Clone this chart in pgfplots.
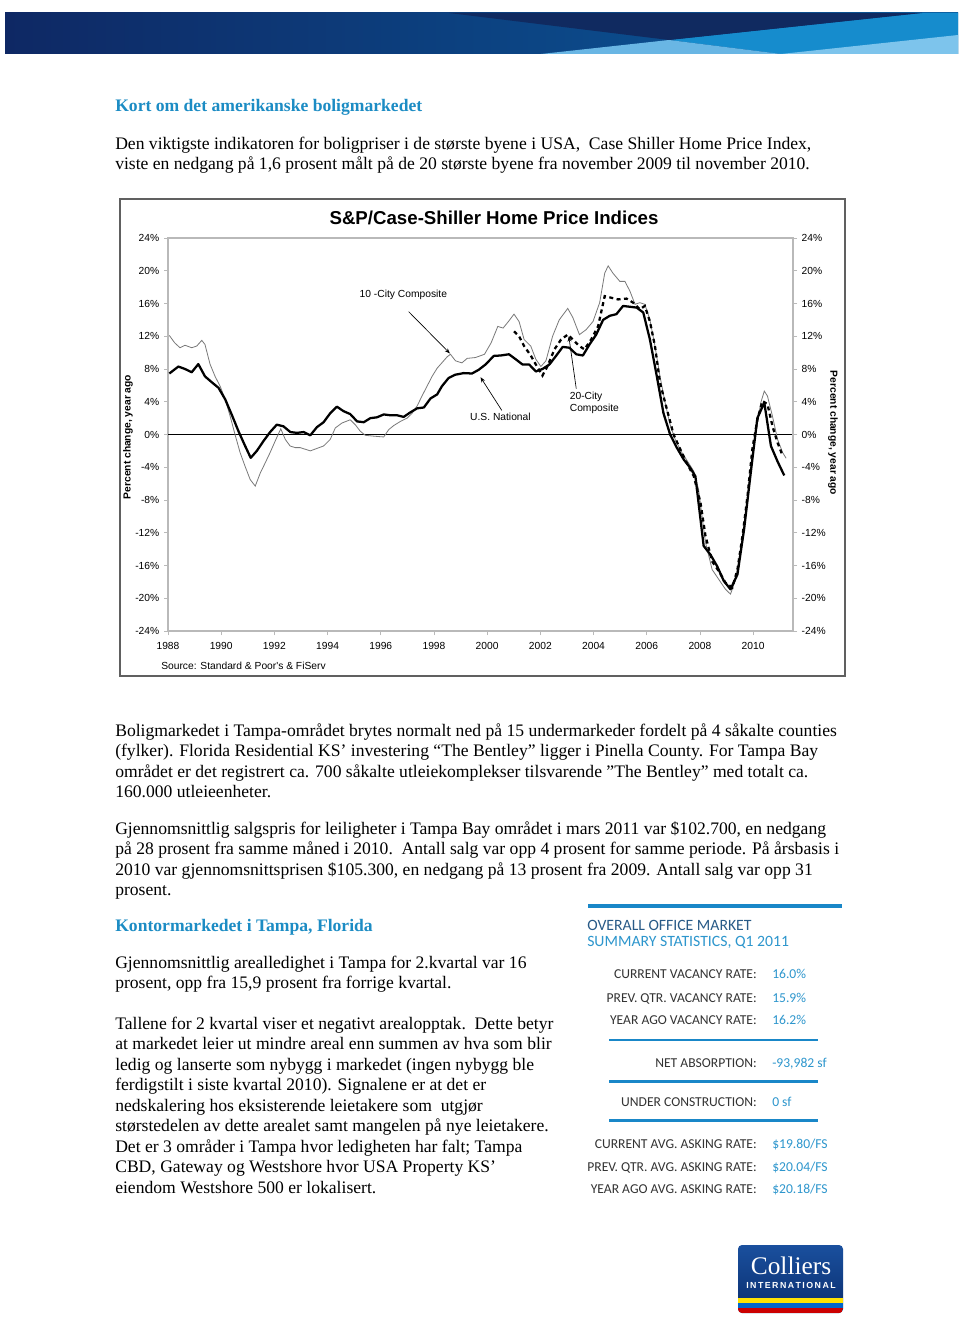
\documentclass[border=0pt]{standalone}
\usepackage{pgfplots}
\pgfplotsset{compat=1.18}
\usepackage{fontspec}
\setmainfont{Liberation Serif}
\newfontfamily\arial{Liberation Sans}
\newfontfamily\carlito{Carlito}
\usetikzlibrary{arrows.meta}
\definecolor{headblue}{RGB}{28,140,196}
\definecolor{statblue}{RGB}{45,150,205}
\definecolor{statdark}{RGB}{40,90,135}
\definecolor{barblue}{RGB}{25,135,200}
\definecolor{navyA}{RGB}{14,40,100}
\definecolor{navyB}{RGB}{10,92,158}
\definecolor{navyTop}{RGB}{16,42,96}
\definecolor{brightB}{RGB}{22,140,205}
\definecolor{lightB}{RGB}{105,182,228}
\definecolor{lightC}{RGB}{125,196,236}
\definecolor{logoTop}{RGB}{26,80,158}
\definecolor{logoBot}{RGB}{10,45,110}

\pgfplotstableread{
x y
1988.05 12.1
1988.25 11.2
1988.45 10.6
1988.64 10.9
1988.89 10.6
1989.08 10.8
1989.27 11.5
1989.39 11.0
1989.58 8.6
1989.77 7.1
1989.96 5.9
1990.15 4.3
1990.34 2.2
1990.52 0.0
1990.71 -2.2
1990.90 -3.9
1991.09 -5.5
1991.28 -6.3
1991.47 -4.7
1991.65 -3.5
1991.84 -2.2
1992.03 -0.8
1992.24 0.7
1992.41 -0.6
1992.59 -1.4
1992.78 -1.6
1992.97 -1.6
1993.16 -1.8
1993.35 -2.0
1993.60 -1.7
1993.85 -1.4
1994.10 -0.6
1994.29 0.8
1994.54 1.4
1994.85 1.8
1995.04 1.2
1995.23 0.4
1995.42 -0.1
1995.73 -0.2
1996.11 -0.3
1996.30 0.6
1996.49 1.1
1996.74 1.6
1996.99 2.0
1997.18 2.6
1997.37 3.5
1997.55 4.7
1997.74 5.9
1997.93 7.1
1998.12 8.1
1998.31 8.8
1998.50 9.5
1998.62 9.8
1998.81 9.0
1999.05 8.75
1999.25 9.3
1999.56 9.4
1999.90 9.8
2000.15 11.2
2000.40 13.2
2000.60 13.0
2000.80 13.8
2001.01 14.7
2001.20 13.8
2001.39 11.6
2001.64 10.8
2001.83 9.2
2002.02 8.3
2002.21 9.0
2002.46 12.0
2002.71 14.0
2003.03 15.4
2003.22 14.3
2003.47 12.2
2003.72 12.8
2003.98 13.8
2004.23 16.1
2004.42 19.7
2004.55 20.6
2004.73 19.7
2004.99 18.7
2005.18 18.7
2005.37 17.5
2005.56 15.9
2005.74 16.1
2005.93 15.9
2006.12 14.0
2006.31 10.8
2006.50 7.1
2006.69 3.9
2006.88 1.2
2007.07 -0.6
2007.32 -2.2
2007.58 -3.5
2007.77 -4.5
2007.95 -6.7
2008.08 -10.0
2008.21 -13.2
2008.46 -16.5
2008.71 -17.7
2008.96 -18.9
2009.15 -19.5
2009.34 -17.7
2009.53 -14.0
2009.72 -9.6
2009.91 -3.9
2010.10 0.2
2010.29 3.9
2010.42 5.3
2010.54 4.7
2010.73 2.2
2010.92 -0.6
2011.11 -2.2
2011.24 -2.9
}\tencity

\pgfplotstableread{
x y
1988.05 7.45
1988.39 8.3
1988.64 8.0
1988.89 7.6
1989.14 8.6
1989.39 7.1
1989.64 6.4
1989.90 5.7
1990.15 4.3
1990.40 2.4
1990.65 0.4
1990.90 -1.4
1991.11 -2.85
1991.34 -2.0
1991.59 -0.8
1991.84 0.3
1992.09 1.2
1992.34 1.0
1992.60 0.3
1992.85 0.2
1993.10 0.3
1993.35 -0.1
1993.60 0.9
1993.85 1.5
1994.10 2.6
1994.35 3.4
1994.60 2.85
1994.85 2.5
1995.11 1.6
1995.36 1.5
1995.61 2.0
1995.86 2.1
1996.11 2.45
1996.36 2.35
1996.61 2.35
1996.86 2.15
1997.11 2.7
1997.37 3.2
1997.62 3.3
1997.87 4.4
1998.12 4.9
1998.30 5.9
1998.55 6.9
1998.80 7.3
1999.12 7.5
1999.43 7.45
1999.68 7.9
1999.94 8.55
2000.25 9.6
2000.51 9.65
2000.82 9.8
2001.07 9.2
2001.33 8.55
2001.58 8.55
2001.83 7.7
2002.08 8.0
2002.34 8.55
2002.59 9.6
2002.84 10.7
2003.09 10.6
2003.35 9.8
2003.60 9.65
2003.85 11.0
2004.10 12.2
2004.36 14.0
2004.61 14.5
2004.86 14.7
2005.11 15.7
2005.37 15.6
2005.62 15.5
2005.87 14.9
2006.12 11.6
2006.38 7.1
2006.63 2.6
2006.88 0.0
2007.13 -1.6
2007.39 -3.05
2007.64 -4.1
2007.83 -5.1
2008.14 -13.6
2008.40 -14.7
2008.65 -16.1
2008.90 -17.9
2009.15 -18.9
2009.41 -17.1
2009.66 -11.6
2009.91 -4.7
2010.16 2.0
2010.42 3.9
2010.67 -1.4
2010.92 -3.3
2011.17 -5.0
}\national

\pgfplotstableread{
x y
2001.01 12.6
2001.20 12.0
2001.39 10.8
2001.64 9.65
2001.83 8.55
2002.08 7.2
2002.27 8.35
2002.53 10.4
2002.78 11.6
2003.03 12.2
2003.22 11.6
2003.47 10.8
2003.66 10.4
2003.91 11.6
2004.17 13.2
2004.42 16.9
2004.67 16.7
2004.92 16.5
2005.24 16.6
2005.49 16.1
2005.74 15.3
2005.93 15.7
2006.12 13.8
2006.31 10.8
2006.50 6.3
2006.76 3.05
2007.01 0.0
2007.26 -1.8
2007.51 -3.5
2007.77 -5.1
2008.02 -8.3
2008.21 -12.4
2008.46 -15.5
2008.71 -16.7
2008.96 -18.1
2009.22 -18.7
2009.41 -16.5
2009.60 -12.4
2009.79 -7.5
2009.97 -1.8
2010.16 1.8
2010.35 4.1
2010.54 3.7
2010.73 1.0
2010.92 -1.0
2011.11 -2.6
}\twentycity

\newcommand{\bodyfont}{\fontsize{13.2}{15}\selectfont}
\newcommand{\tickfont}{\arial\fontsize{7.7}{9}\selectfont}

\begin{document}
\begin{tikzpicture}
\begin{scope}[x=0.75pt,y=-0.75pt]
% page
\path[fill=white] (0,0) rectangle (960,1320);
% header band
\shade[left color=navyA, right color=navyB] (5,13) rectangle (958,54);
\fill[brightB] (922,13) -- (958,13) -- (958,54) -- (781,54) -- (669,40) -- cycle;
\fill[navyTop] (449,13) -- (922,13) -- (669,40) -- cycle;
\fill[lightB] (541,54) -- (781,54) -- (669,40) -- cycle;
\fill[lightC] (781,54) -- (958,35) -- (958,54) -- cycle;

% heading 1 and paragraph
\node[anchor=base west, inner sep=0, text=headblue, font=\bfseries\fontsize{13.2}{15}\selectfont] at (115,111) {Kort om det amerikanske boligmarkedet};
\begin{scope}[every node/.style={anchor=base west, inner sep=0, font=\bodyfont}]
\node at (115,149) {Den viktigste indikatoren for boligpriser i de største byene i USA,\ \ Case Shiller Home Price Index,};
\node at (115,169.5) {viste en nedgang på 1,6 prosent målt på de 20 største byene fra november 2009 til november 2010.};
\node at (115,736) {Boligmarkedet i Tampa-området brytes normalt ned på 15 undermarkeder fordelt på 4 såkalte counties};
\node at (115,756.5) {(fylker). Florida Residential KS’ investering “The Bentley” ligger i Pinella County. For Tampa Bay};
\node at (115,777) {området er det registrert ca. 700 såkalte utleiekomplekser tilsvarende ”The Bentley” med totalt ca.};
\node at (115,797.5) {160.000 utleieenheter.};
\node at (115,834) {Gjennomsnittlig salgspris for leiligheter i Tampa Bay området i mars 2011 var \$102.700, en nedgang};
\node at (115,854.5) {på 28 prosent fra samme måned i 2010.\ \ Antall salg var opp 4 prosent for samme periode. På årsbasis i};
\node at (115,875) {2010 var gjennomsnittsprisen \$105.300, en nedgang på 13 prosent fra 2009. Antall salg var opp 31};
\node at (115,895.5) {prosent.};
\node at (115,968) {Gjennomsnittlig arealledighet i Tampa for 2.kvartal var 16};
\node at (115,988.5) {prosent, opp fra 15,9 prosent fra forrige kvartal.};
\node at (115,1029) {Tallene for 2 kvartal viser et negativt arealopptak.\ \ Dette betyr};
\node at (115,1049.5) {at markedet leier ut mindre areal enn summen av hva som blir};
\node at (115,1070) {ledig og lanserte som nybygg i markedet (ingen nybygg ble};
\node at (115,1090.5) {ferdigstilt i siste kvartal 2010). Signalene er at det er};
\node at (115,1111) {nedskalering hos eksisterende leietakere som\ \ utgjør};
\node at (115,1131.5) {størstedelen av dette arealet samt mangelen på nye leietakere.};
\node at (115,1152) {Det er 3 områder i Tampa hvor ledigheten har falt; Tampa};
\node at (115,1172.5) {CBD, Gateway og Westshore hvor USA Property KS’};
\node at (115,1193) {eiendom Westshore 500 er lokalisert.};
\end{scope}
\node[anchor=base west, inner sep=0, text=headblue, font=\bfseries\fontsize{13.2}{15}\selectfont] at (115,931) {Kontormarkedet i Tampa, Florida};

% chart frame
\draw[gray!75!black, line width=1pt] (120,199) rectangle (845,676);
\node[font=\arial\bfseries\fontsize{14}{16}\selectfont] at (494,218) {S\&P/Case-Shiller Home Price Indices};
\node[rotate=90, font=\arial\bfseries\fontsize{7.7}{9}\selectfont] at (128,437) {Percent change, year ago};
\node[rotate=-90, font=\arial\bfseries\fontsize{7.7}{9}\selectfont] at (833,433) {Percent change, year ago};
\node[anchor=west, inner sep=0, font=\arial\fontsize{7.7}{9}\selectfont] at (161,666) {Source: Standard \& Poor's \& FiServ};

% summary statistics box
\draw[barblue, line width=3.2pt] (588,906) -- (842,906);
\node[anchor=base west, inner sep=0, text=statdark, font=\carlito\fontsize{11.8}{14}\selectfont] at (587,930.5) {OVERALL OFFICE MARKET};
\node[anchor=base west, inner sep=0, text=statblue, font=\carlito\fontsize{11.8}{14}\selectfont] at (587,946.5) {SUMMARY STATISTICS, Q1 2011};
\begin{scope}[every node/.style={inner sep=0, font=\carlito\fontsize{10.2}{12}\selectfont}]
\foreach \yy/\lab/\val in {978/{CURRENT VACANCY RATE:}/{16.0\%}, 1002/{PREV. QTR. VACANCY RATE:}/{15.9\%}, 1024.5/{YEAR AGO VACANCY RATE:}/{16.2\%}, 1067/{NET ABSORPTION:}/{-93,982 sf}, 1106/{UNDER CONSTRUCTION:}/{0 sf}, 1148.5/{CURRENT AVG. ASKING RATE:}/{\$19.80/FS}, 1171/{PREV. QTR. AVG. ASKING RATE:}/{\$20.04/FS}, 1193/{YEAR AGO AVG. ASKING RATE:}/{\$20.18/FS}}{
  \node[anchor=base east, text=black!80] at (757,\yy) {\lab};
  \node[anchor=base west, text=statblue] at (772,\yy) {\val};
}
\end{scope}
\draw[barblue, line width=2pt] (609,1040) -- (818,1040);
\draw[barblue, line width=2pt] (609,1081.5) -- (818,1081.5);
\draw[barblue, line width=2pt] (609,1120.5) -- (818,1120.5);

% logo
\begin{scope}
\clip[rounded corners=3pt] (738,1245) rectangle (843,1313);
\shade[top color=logoTop, bottom color=logoBot] (738,1245) rectangle (843,1313);
\fill[yellow!85!orange] (738,1298) rectangle (843,1303);
\fill[blue!50!cyan!80!black] (738,1303) rectangle (843,1307.5);
\fill[red!80!black] (738,1307.5) rectangle (843,1313);
\end{scope}
\node[text=white, font=\fontsize{19}{20}\selectfont] at (791,1266) {Colliers};
\node[text=white, font=\arial\bfseries\fontsize{6.6}{7}\selectfont] at (791,1285.5) {I\,N\,T\,E\,R\,N\,A\,T\,I\,O\,N\,A\,L};
\end{scope}

% main axis
\begin{axis}[
  at={(126pt,-473.25pt)}, anchor=south west,
  scale only axis, width=468.75pt, height=294.75pt,
  xmin=1988, xmax=2011.5, ymin=-24, ymax=24,
  axis line style={draw=gray!55, line width=0.9pt},
  tick style={draw=gray!55, line width=0.6pt},
  tick align=outside, major tick length=3pt,
  xtick={1988,1990,1992,1994,1996,1998,2000,2002,2004,2006,2008,2010},
  xticklabels={1988,1990,1992,1994,1996,1998,2000,2002,2004,2006,2008,2010},
  xtick pos=bottom,
  ytick={-24,-20,-16,-12,-8,-4,0,4,8,12,16,20,24},
  yticklabels={-24\%,-20\%,-16\%,-12\%,-8\%,-4\%,0\%,4\%,8\%,12\%,16\%,20\%,24\%},
  ytick pos=left,
  tick label style={font=\tickfont},
  xticklabel style={yshift=-2pt},
  clip=true,
]
\addplot[black, line width=0.5pt] coordinates {(1988,0) (2011.5,0)};
\addplot[gray!95!black, line width=0.6pt] table[x=x,y=y] {\tencity};
\addplot[black, line width=1.7pt, line join=round] table[x=x,y=y] {\national};
\addplot[black, line width=1.7pt, dash pattern=on 3pt off 2.6pt] table[x=x,y=y] {\twentycity};
\node[font=\arial\fontsize{7.7}{9}\selectfont] at (axis cs:1996.85,17.0) {10 -City Composite};
\draw[-{Stealth[length=4pt,width=3pt]}, line width=0.5pt] (axis cs:1997.05,15.0) -- (axis cs:1998.6,9.9);
\node[font=\arial\fontsize{7.7}{9}\selectfont] at (axis cs:2000.5,2.1) {U.S. National};
\draw[-{Stealth[length=4pt,width=3pt]}, line width=0.5pt] (axis cs:2000.55,2.95) -- (axis cs:1999.75,7.0);
\node[font=\arial\fontsize{7.7}{9}\selectfont, align=left, anchor=west, inner sep=0] at (axis cs:2003.1,3.9) {20-City\\Composite};
\draw[-{Stealth[length=4pt,width=3pt]}, line width=0.5pt] (axis cs:2003.35,5.6) -- (axis cs:2003.07,12.0);
\end{axis}

% right axis labels
\begin{axis}[
  at={(126pt,-473.25pt)}, anchor=south west,
  scale only axis, width=468.75pt, height=294.75pt,
  xmin=1988, xmax=2011.5, ymin=-24, ymax=24,
  hide x axis,
  axis y line*=right,
  axis line style={draw=gray!55, line width=0.9pt},
  tick style={draw=gray!55, line width=0.6pt},
  tick align=outside, major tick length=3pt,
  ytick={-24,-20,-16,-12,-8,-4,0,4,8,12,16,20,24},
  yticklabels={-24\%,-20\%,-16\%,-12\%,-8\%,-4\%,0\%,4\%,8\%,12\%,16\%,20\%,24\%},
  tick label style={font=\tickfont},
]
\addplot[draw=none] coordinates {(1988,0)};
\end{axis}
\end{tikzpicture}
\end{document}
